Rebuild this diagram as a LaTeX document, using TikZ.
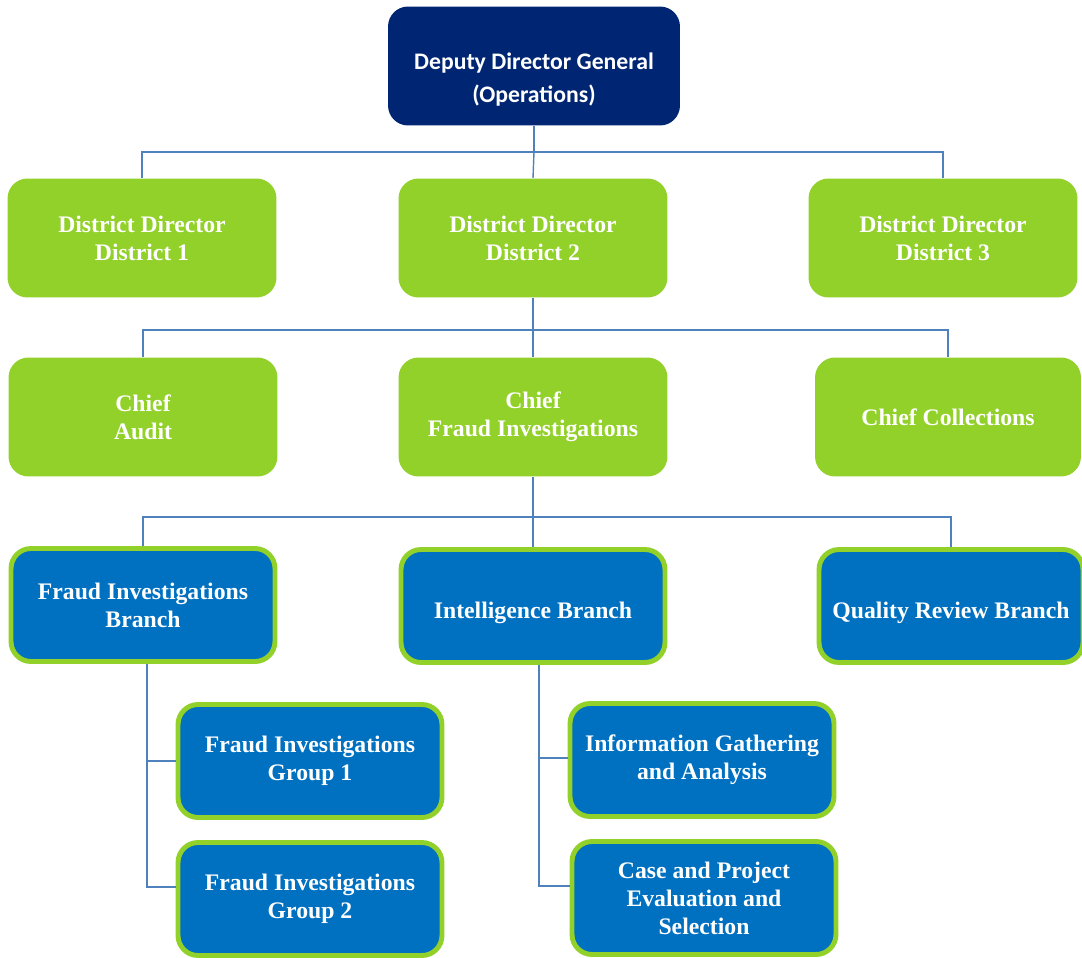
\documentclass[tikz,border=0pt]{standalone}
\usepackage{fontspec}
\setmainfont{Liberation Serif}
\newfontfamily\carlito{Carlito}
\definecolor{navy}{RGB}{0,38,115}
\definecolor{leaf}{RGB}{146,208,42}
\definecolor{ocean}{RGB}{0,112,192}
\definecolor{linkblue}{RGB}{79,129,189}

\begin{document}
\begin{tikzpicture}[x=0.02cm,y=-0.02cm,
    director/.style ={rounded corners=0.4cm, fill=navy, text=white, align=center,
        minimum width=5.84cm, minimum height=2.38cm,
        font=\carlito\bfseries\fontsize{13.5}{19}\selectfont},
    chief/.style ={rounded corners=0.4cm, fill=leaf, text=white, align=center,
        minimum width=5.38cm, minimum height=2.38cm,
        font=\bfseries\fontsize{13.5}{16}\selectfont},
    branch/.style ={rounded corners=0.4cm, fill=ocean, draw=leaf, line width=2.8pt,
        text=white, align=center, inner sep=2pt,
        minimum width=5.28cm, minimum height=2.26cm,
        execute at begin node={\rule{0pt}{17pt}},
        font=\bfseries\fontsize{13.5}{16}\selectfont},
    link/.style ={draw=linkblue, line width=0.8pt}]
   \useasboundingbox (0,0) rectangle (1082,957);

   \node[director] (D) at (534,66) {\rule{0pt}{25pt}Deputy Director General\\(Operations)};

   \node[chief] (D1) at (142,238) {District Director\\District 1};
   \node[chief] (D2) at (533,238) {District Director\\District 2};
   \node[chief] (D3) at (943,238) {District Director\\District 3};

   \node[chief] (A) at (143,417) {Chief\\Audit};
   \node[chief] (F) at (533,417) {Chief\\Fraud Investigations};
   \node[chief, minimum width=5.32cm] (C) at (948,417) {Chief Collections};

   \node[branch] (FB) at (143,605) {Fraud Investigations\\Branch};
   \node[branch] (IB) at (533,606) {Intelligence Branch};
   \node[branch] (QB) at (951,606) {Quality Review Branch};

   \node[branch] (G1) at (310,761) {Fraud Investigations\\Group 1};
   \node[branch] (G2) at (310,899) {Fraud Investigations\\Group 2};
   \node[branch] (IG) at (702,760) {Information Gathering\\and Analysis};
   \node[branch] (CP) at (704,898) {Case and Project\\Evaluation and\\Selection};

   \coordinate (j1) at (534,152);
   \coordinate (j2) at (533,330);
   \coordinate (j3) at (533,517);

   \draw[link] (D.south) -- (j1);
   \draw[link] (j1) -| (D1.north);
   \draw[link] (j1) -- (D2.north);
   \draw[link] (j1) -| (D3.north);

   \draw[link] (D2.south) -- (j2);
   \draw[link] (j2) -| (A.north);
   \draw[link] (j2) -- (F.north);
   \draw[link] (j2) -| (C.north);

   \draw[link] (F.south) -- (j3);
   \draw[link] (j3) -| (FB.north);
   \draw[link] (j3) -- (IB.north);
   \draw[link] (j3) -| (QB.north);

   \draw[link] ([xshift=0.08cm]FB.south) |- (G1.west);
   \draw[link] ([xshift=0.08cm]FB.south) |- ([yshift=0.24cm]G2.west);
   \draw[link] ([xshift=0.12cm]IB.south) |- ([yshift=0.04cm]IG.west);
   \draw[link] ([xshift=0.12cm]IB.south) |- ([yshift=0.24cm]CP.west);
 \end{tikzpicture}
\end{document}
